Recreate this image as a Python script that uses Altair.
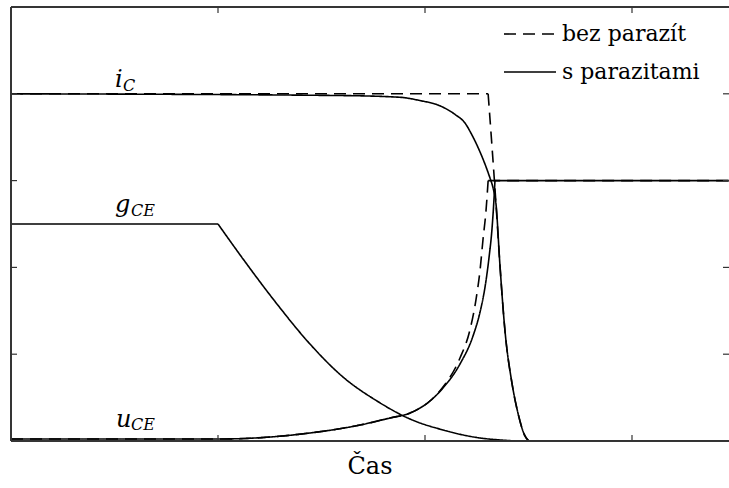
import altair as alt
import pandas as pd

# --- series: collector current i_C, conductance g_CE, voltage u_CE over time ---
# Each curve is stored as pieces so that sharp corners stay sharp
# under the smooth (monotone) interpolation.
DASH = "bez parazít"
SOLID = "s parazitami"

# i_C without parasitics
t_ic_ideal_on = [0.0, 2.305]
ic_ideal_on = [4.0, 4.0]
t_ic_ideal_fall = [2.305, 2.343, 2.362, 2.386, 2.420, 2.449, 2.483, 2.502]
ic_ideal_fall = [4.0, 2.730, 2.028, 1.279, 0.668, 0.323, 0.058, 0.0]

# i_C with parasitics
t_ic_real = [0.0, 1.589, 1.879, 1.976, 2.072, 2.145, 2.193, 2.227, 2.266, 2.295,
             2.314, 2.329, 2.343, 2.362, 2.386, 2.420, 2.449, 2.483, 2.502]
ic_real = [4.0, 3.98, 3.960, 3.922, 3.862, 3.762, 3.664, 3.525, 3.329, 3.157,
           3.029, 2.914, 2.730, 2.028, 1.279, 0.668, 0.323, 0.058, 0.0]
t_ic_off = [2.502, 3.47]
ic_off = [0.0, 0.0]

# u_CE without parasitics
t_uce_ideal = [0.0, 1.0, 1.444, 1.686, 1.831, 1.928, 2.024, 2.087, 2.169, 2.217,
               2.246, 2.266, 2.280, 2.295, 2.305]
uce_ideal = [0.023, 0.023, 0.092, 0.184, 0.265, 0.323, 0.461, 0.622, 0.956, 1.279,
             1.624, 1.970, 2.316, 2.661, 3.0]
t_uce_ideal_off = [2.305, 3.47]
uce_ideal_off = [3.0, 3.0]

# u_CE with parasitics
t_uce_real = [0.0, 1.0, 1.444, 1.686, 1.831, 1.928, 2.024, 2.087, 2.169, 2.232,
              2.266, 2.290, 2.309, 2.324, 2.333, 2.338]
uce_real = [0.023, 0.023, 0.092, 0.184, 0.265, 0.323, 0.461, 0.611, 0.887, 1.210,
            1.486, 1.774, 2.108, 2.454, 2.776, 3.0]
t_uce_real_off = [2.338, 3.47]
uce_real_off = [3.0, 3.0]

# g_CE (same in both cases)
t_gce_on = [0.0, 1.0]
gce_on = [2.5, 2.5]
t_gce_fall = [1.0, 1.121, 1.285, 1.444, 1.604, 1.768, 1.928, 2.087, 2.251, 2.362, 2.459, 3.47]
gce_fall = [2.5, 2.097, 1.578, 1.118, 0.737, 0.461, 0.253, 0.127, 0.040, 0.012, 0.0, 0.0]

# curve labels (letter + subscript) and where they sit
lab_main = ["i", "g", "u"]
lab_sub = ["C", "CE", "CE"]
lab_t = [0.502, 0.502, 0.507]
lab_v = [4.078, 2.638, 0.161]
sub_t = [0.541, 0.580, 0.580]
sub_v = [4.030, 2.592, 0.127]

x_ticks = [1, 2, 3]
y_ticks = [1, 2, 3, 4]

X_MAX = 3.4686
W, H = 718, 434
SERIF = "DejaVu Serif, Liberation Serif, serif"

curves = [
    ("ic_real", SOLID, t_ic_real, ic_real),
    ("ic_off", SOLID, t_ic_off, ic_off),
    ("uce_real", SOLID, t_uce_real, uce_real),
    ("uce_real_off", SOLID, t_uce_real_off, uce_real_off),
    ("gce_on", SOLID, t_gce_on, gce_on),
    ("gce_fall", SOLID, t_gce_fall, gce_fall),
    ("ic_ideal_on", DASH, t_ic_ideal_on, ic_ideal_on),
    ("ic_ideal_fall", DASH, t_ic_ideal_fall, ic_ideal_fall),
    ("uce_ideal", DASH, t_uce_ideal, uce_ideal),
    ("uce_ideal_off", DASH, t_uce_ideal_off, uce_ideal_off),
]
rows = []
for name, series, ts, vs in curves:
    for i, (t, v) in enumerate(zip(ts, vs)):
        rows.append({"curve": name, "series": series, "t": t, "v": v, "i": i})
df = pd.DataFrame(rows)

labels = pd.DataFrame({"main": lab_main, "sub": lab_sub, "t": lab_t, "v": lab_v,
                       "ts": sub_t, "vs": sub_v})
xt = pd.DataFrame({"t": x_ticks})
yt = pd.DataFrame({"v": y_ticks})

x_scale = alt.Scale(domain=[0, X_MAX], nice=False, zero=False)
y_scale = alt.Scale(domain=[0, 5], nice=False)

lines = alt.Chart(df).mark_line(
    strokeWidth=1.6, color="#000", clip=True, interpolate="monotone"
).encode(
    x=alt.X("t:Q", scale=x_scale, axis=None),
    y=alt.Y("v:Q", scale=y_scale, axis=None),
    strokeDash=alt.StrokeDash(
        "series:N",
        scale=alt.Scale(domain=[DASH, SOLID], range=[[12, 7], [1, 0]]),
        legend=alt.Legend(title=None, orient="none", legendX=492, legendY=0,
                          symbolType="stroke", symbolSize=2704, symbolStrokeWidth=1.6,
                          symbolStrokeColor="#000", labelFont=SERIF, labelFontSize=22,
                          labelColor="#000", labelOffset=5, labelLimit=300,
                          rowPadding=-20, padding=0),
    ),
    detail="curve:N",
    order="i:Q",
)

main_txt = alt.Chart(labels).mark_text(
    font=SERIF, fontSize=24, fontStyle="italic", align="left", baseline="alphabetic", color="#000"
).encode(x=alt.X("t:Q", scale=x_scale, axis=None), y=alt.Y("v:Q", scale=y_scale, axis=None),
         text="main:N")

sub_txt = alt.Chart(labels).mark_text(
    font=SERIF, fontSize=16, fontStyle="italic", align="left", baseline="alphabetic", color="#000"
).encode(x=alt.X("ts:Q", scale=x_scale, axis=None), y=alt.Y("vs:Q", scale=y_scale, axis=None),
         text="sub:N")

TICK = 6
tick_style = dict(color="#333", strokeWidth=1.2)
ticks_bottom = alt.Chart(xt).mark_rule(**tick_style).encode(
    x=alt.X("t:Q", scale=x_scale, axis=None), y=alt.value(H), y2=alt.value(H - TICK))
ticks_top = alt.Chart(xt).mark_rule(**tick_style).encode(
    x=alt.X("t:Q", scale=x_scale, axis=None), y=alt.value(0), y2=alt.value(TICK))
ticks_left = alt.Chart(yt).mark_rule(**tick_style).encode(
    y=alt.Y("v:Q", scale=y_scale, axis=None), x=alt.value(0), x2=alt.value(TICK))
ticks_right = alt.Chart(yt).mark_rule(**tick_style).encode(
    y=alt.Y("v:Q", scale=y_scale, axis=None), x=alt.value(W), x2=alt.value(W - TICK))

# plot frame: top, bottom and left edges (the right edge runs past the page)
frame_style = dict(color="#333", strokeWidth=1.5)
frame_top = alt.Chart(xt).mark_rule(**frame_style).encode(
    x=alt.value(0), x2=alt.value(W + 2), y=alt.value(0))
frame_bottom = alt.Chart(xt).mark_rule(**frame_style).encode(
    x=alt.value(0), x2=alt.value(W + 2), y=alt.value(H))
frame_left = alt.Chart(xt).mark_rule(**frame_style).encode(
    x=alt.value(0), y=alt.value(0), y2=alt.value(H))

chart = alt.layer(
    lines, main_txt, sub_txt, ticks_bottom, ticks_top, ticks_left, ticks_right,
    frame_top, frame_bottom, frame_left,
).properties(
    width=W, height=H,
    title=alt.TitleParams("Čas", orient="bottom", anchor="middle", font=SERIF,
                          fontSize=24, fontWeight="normal", color="#000", offset=13),
    autosize=alt.AutoSizeParams(type="none"),
    padding={"left": 11, "top": 7, "right": 0, "bottom": 47},
    background="white",
).configure_view(stroke=None)

chart.save("out.html", embed_options={"renderer": "svg", "actions": False})
